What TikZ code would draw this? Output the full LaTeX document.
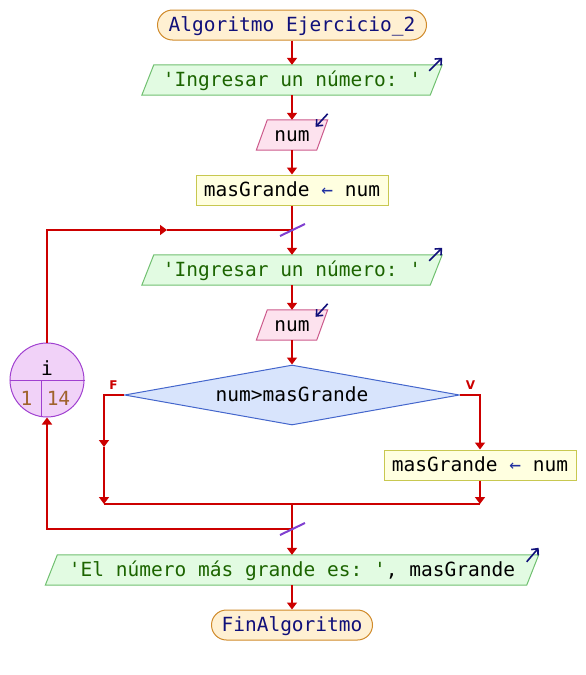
\documentclass[tikz,border=0pt]{standalone}
\usepackage{fontspec}
\setmonofont{DejaVu Sans Mono}
\newfontfamily\lblfont{DejaVu Sans}
\usetikzlibrary{arrows.meta,shapes.geometric,backgrounds}
\definecolor{flow}{HTML}{CC0000}
\definecolor{navy}{HTML}{10107A}
\definecolor{termfill}{HTML}{FFF0D2}
\definecolor{termline}{HTML}{D08A2A}
\definecolor{outfill}{HTML}{E2FBE2}
\definecolor{outline}{HTML}{70C070}
\definecolor{strc}{HTML}{1C6400}
\definecolor{infill}{HTML}{FDE2EE}
\definecolor{inline}{HTML}{CC5A8C}
\definecolor{asgfill}{HTML}{FFFFE0}
\definecolor{asgline}{HTML}{C8C850}
\definecolor{asgarrow}{HTML}{2030A0}
\definecolor{decfill}{HTML}{D8E4FC}
\definecolor{decline}{HTML}{4466CC}
\definecolor{loopfill}{HTML}{F1D2F8}
\definecolor{loopline}{HTML}{A040D0}
\definecolor{loopnum}{HTML}{A0622C}
\definecolor{slash}{HTML}{8040D0}
\tikzset{
  txt/.style={font=\ttfamily\fontsize{19.5}{22}\selectfont, inner sep=0pt,
    minimum height=30pt, text height=15pt, text depth=2pt},
  term/.style={txt, draw=termline, fill=termfill, line width=1pt,
    rounded corners=15pt, text=navy},
  iobox/.style={txt},
  outshape/.style={draw=outline, fill=outfill, line width=1pt},
  inshape/.style={draw=inline, fill=infill, line width=1pt},
  asgbox/.style={txt, draw=asgline, fill=asgfill, line width=1pt},
  decbox/.style={txt, shape=diamond, draw=decline, fill=decfill, line width=1pt,
    minimum width=335pt, minimum height=60pt, aspect=5.6},
  conn/.style={draw=flow, line width=2pt},
  arr/.style={conn, -{Triangle[length=7pt,width=10pt]}},
  icon/.style={draw=navy, line width=1.6pt, -{Straight Barb[length=5pt,width=9pt]}},
  tf/.style={font=\lblfont\bfseries\fontsize{12}{14}\selectfont, text=flow, inner sep=0pt},
  slashln/.style={draw=slash, line width=2pt},
}
\newcommand\pgm[3]{%
  \begin{scope}[on background layer]
    \path[#3] (#1.south west) -- ([xshift=#2]#1.north west) -- (#1.north east)
      -- ([xshift=-#2]#1.south east) -- cycle;
  \end{scope}}
\begin{document}
\begin{tikzpicture}[x=1pt,y=-1pt]
\useasboundingbox (0,0) rectangle (586,675);

% nodes
\node[term, minimum width=269pt] (start) at (292,25) {Algoritmo Ejercicio\_2};
\node[iobox, minimum width=300pt] (o1) at (292,80) {\color{strc}'Ingresar un número: '};
\pgm{o1}{12}{outshape}
\node[iobox, minimum width=71pt] (in1) at (292,135) {num};
\pgm{in1}{11}{inshape}
\node[asgbox, minimum width=192pt] (a1) at (292,190) {masGrande {\color{asgarrow}←} num};
\node[iobox, minimum width=300pt] (o2) at (292,270) {\color{strc}'Ingresar un número: '};
\pgm{o2}{12}{outshape}
\node[iobox, minimum width=71pt] (in2) at (292,325) {num};
\pgm{in2}{11}{inshape}
\node[decbox] (d) at (292,395) {num>masGrande};
\node[asgbox, minimum width=192pt] (a2) at (480,465) {masGrande {\color{asgarrow}←} num};
\node[iobox, minimum width=493pt] (o3) at (292,570) {{\color{strc}'El número más grande es: '}, masGrande};
\pgm{o3}{12}{outshape}
\node[term, minimum width=161pt] (end) at (292,625) {FinAlgoritmo};

% loop circle
\node[circle, draw=loopline, fill=loopfill, line width=1pt, minimum size=74pt, inner sep=0pt] (lp) at (47,380) {};
\draw[draw=loopline, line width=1pt] (lp.west) -- (lp.east);
\draw[draw=loopline, line width=1pt] (41,380) -- (41,416.5);
\node[txt, minimum height=0pt, anchor=base] (li) at (47,375) {i};
\node[txt, minimum height=0pt, anchor=base, text=loopnum] (lf) at (26.5,405) {1};
\node[txt, minimum height=0pt, anchor=base, text=loopnum] (lt) at (58.5,405) {14};

% icons
\draw[icon] ([shift={(-13,6)}]o1.north east) -- ([shift={(0,-7)}]o1.north east);
\draw[icon] ([shift={(-13,6)}]o2.north east) -- ([shift={(0,-7)}]o2.north east);
\draw[icon] ([shift={(-12,7)}]o3.north east) -- ([shift={(0,-7)}]o3.north east);
\draw[icon] ([shift={(0,-6)}]in1.north east) -- ([shift={(-12,7)}]in1.north east);
\draw[icon] ([shift={(0,-6)}]in2.north east) -- ([shift={(-12,7)}]in2.north east);

% coordinates
\coordinate (looptop) at (292,230);
\coordinate (loopmid) at (167,230);
\coordinate (loopcorner) at (47,230);
\coordinate (jl) at (104,504);
\coordinate (jr) at (480,504);
\coordinate (jm) at (292,504);
\coordinate (fmid) at (104,447);
\coordinate (lb) at (292,529);
\coordinate (lbc) at (47,529);

% connectors
\draw[arr] (start.south) -- (o1.north);
\draw[arr] (o1.south) -- (in1.north);
\draw[arr] (in1.south) -- (a1.north);
\draw[arr] (a1.south) -- (o2.north);
\draw[arr] (o2.south) -- (in2.north);
\draw[arr] (in2.south) -- (d.north);
\draw[arr] (lp.north) -- (loopcorner) -- (loopmid);
\draw[conn] (loopmid) -- (looptop);
\draw[arr] (d.west) -| (fmid);
\draw[arr] (fmid) -- (jl);
\draw[arr] (d.east) -| (a2.north);
\draw[arr] (a2.south) -- (jr);
\draw[conn] (jl) -- (jr);
\draw[arr] (jm) -- (o3.north);
\draw[arr] (lb) -- (lbc) -- (lp.south);
\draw[arr] (o3.south) -- (end.north);

% labels
\node[tf] (fl) at (113.5,385.5) {F};
\node[tf] (vl) at (470.5,385.5) {V};

% slashes
\draw[slashln] ([shift={(-12,6)}]looptop) -- ([shift={(13,-6)}]looptop);
\draw[slashln] ([shift={(-12,6)}]lb) -- ([shift={(13,-6)}]lb);
\end{tikzpicture}
\end{document}
